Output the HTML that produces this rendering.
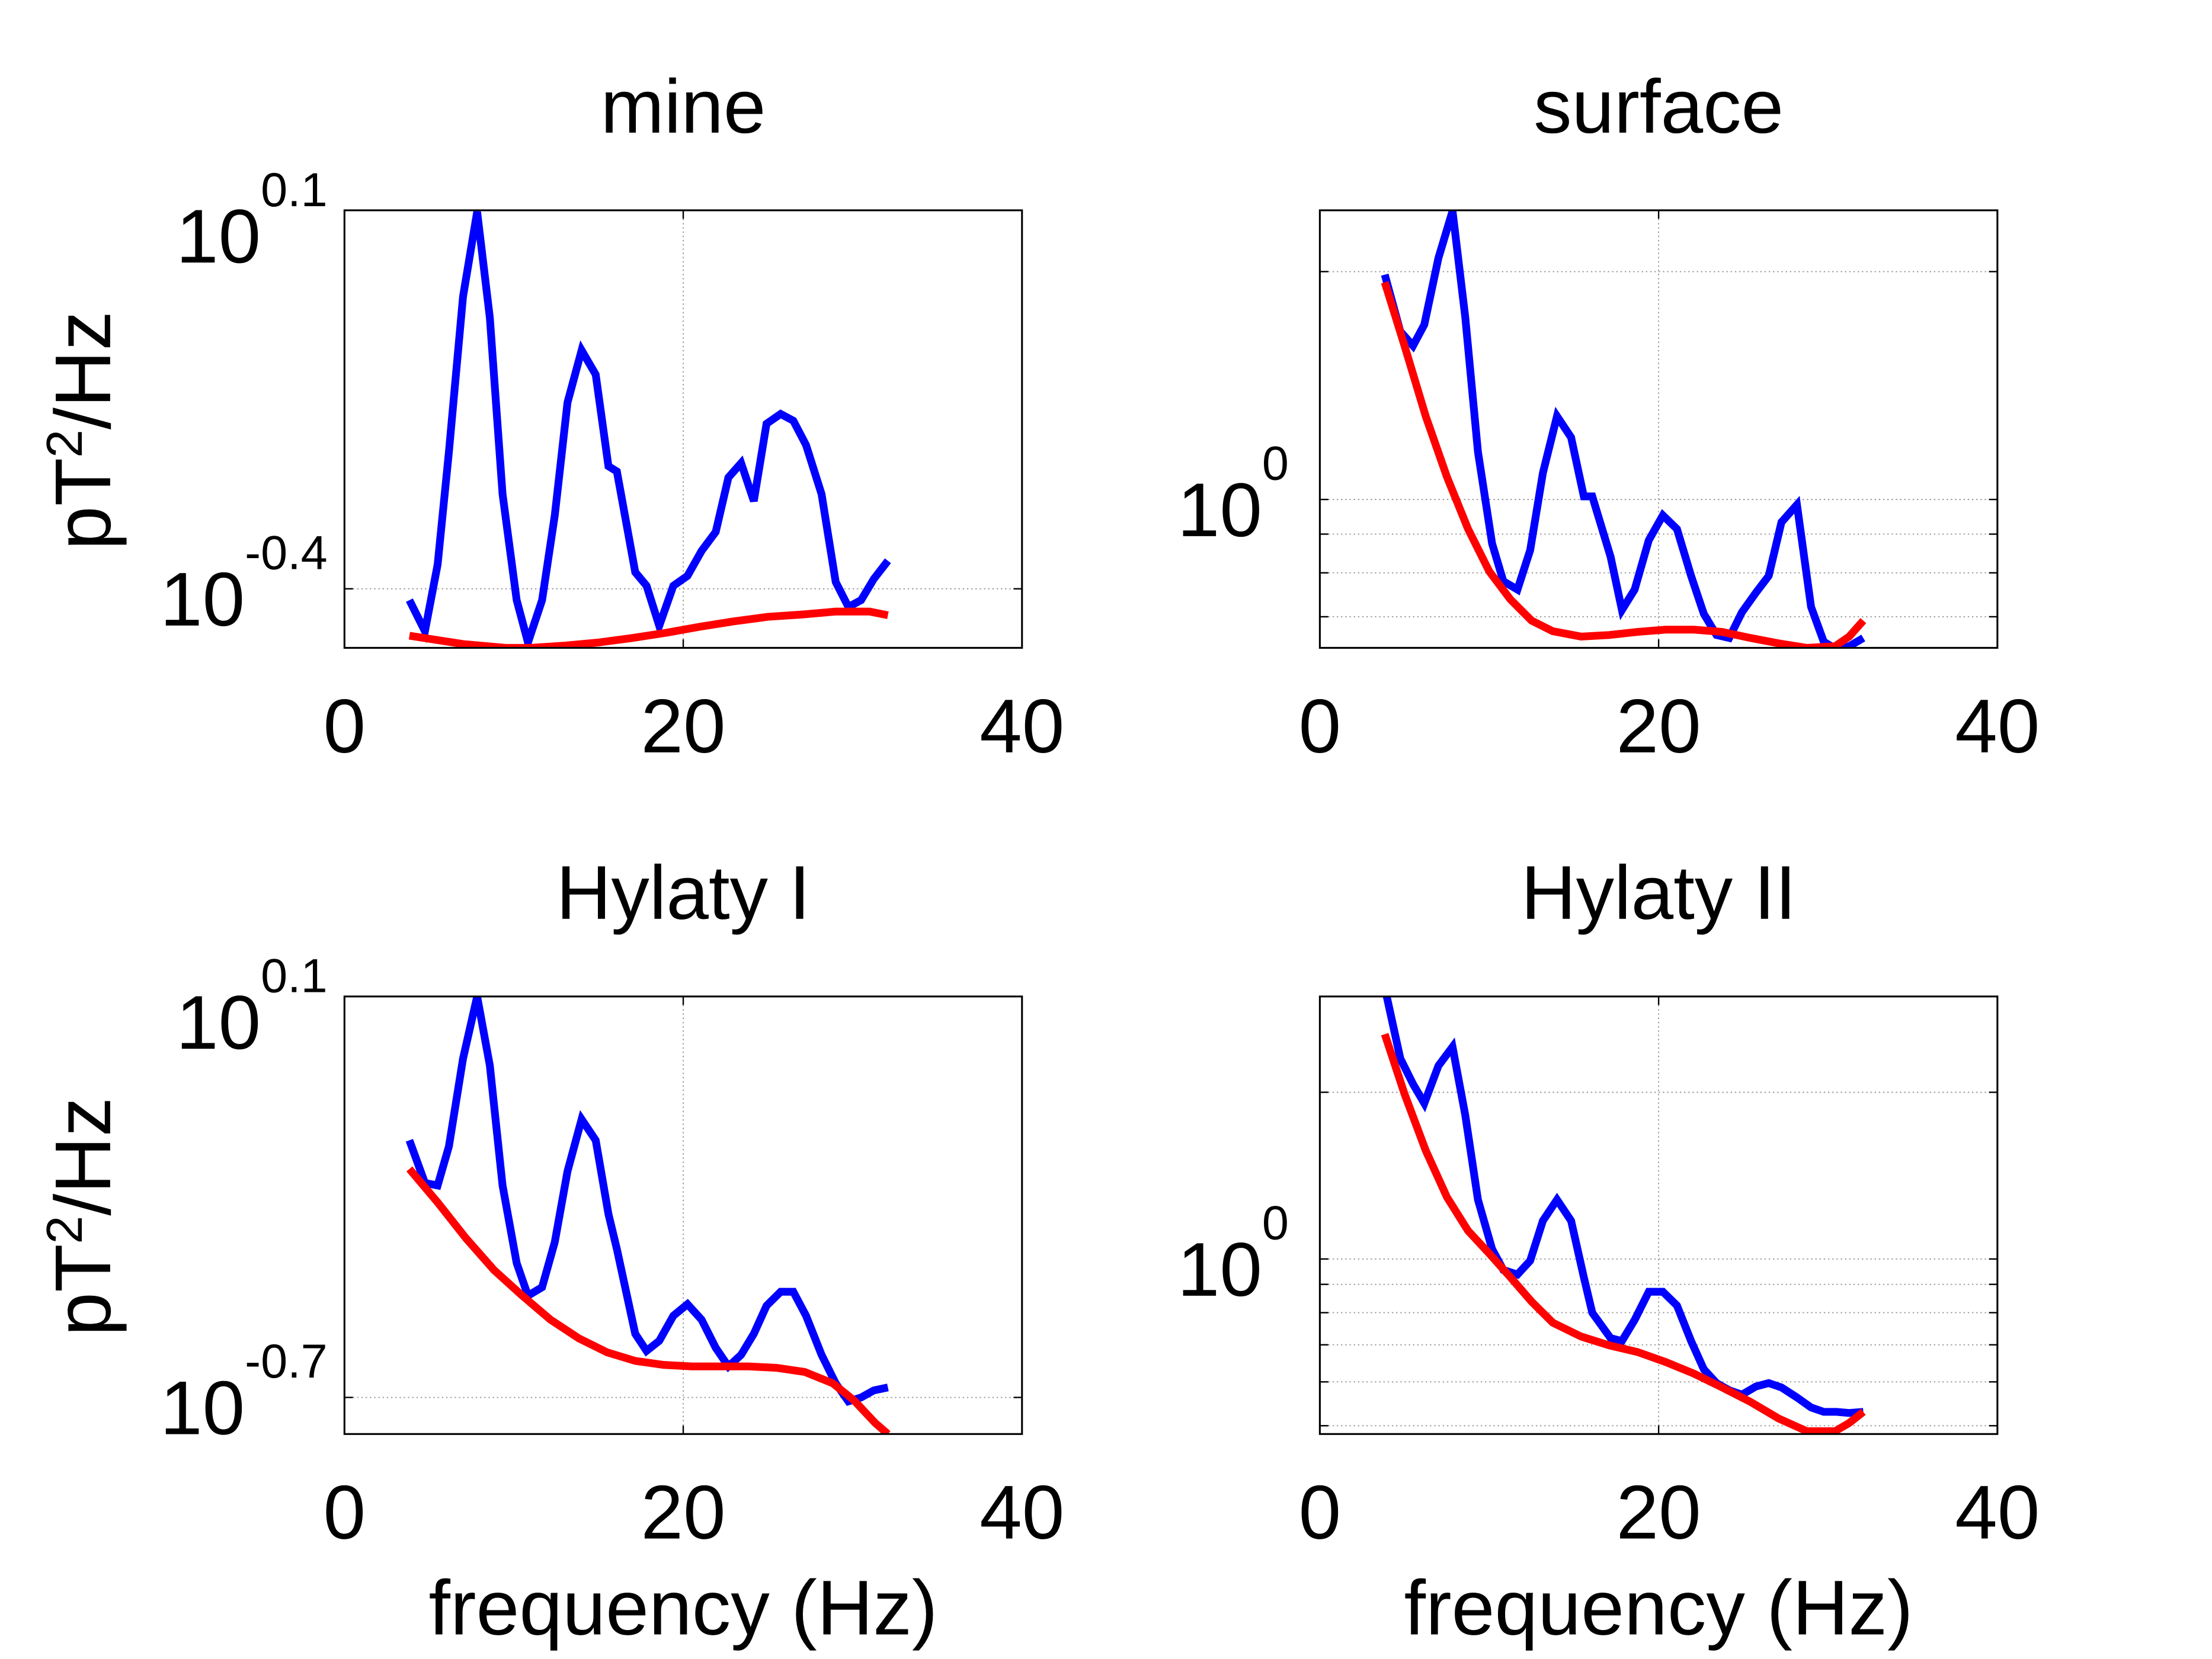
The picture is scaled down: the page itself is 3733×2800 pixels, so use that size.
<!DOCTYPE html>
<html><head><meta charset="utf-8">
<style>
html,body{margin:0;padding:0;background:#fff;}
svg{display:block;}
text{font-family:"Liberation Sans",sans-serif;fill:#000;}
</style></head>
<body>
<svg id="chart" width="3733" height="2800" viewBox="0 0 1567 1175.4" xmlns="http://www.w3.org/2000/svg">
<rect width="1567" height="1175.4" fill="#fff"/>
</svg>
<script>
// Shared frequency grid for measured spectra (Hz)
const blueFreq = [3.83,4.75,5.5,6.17,7,7.83,8.58,9.33,10.17,10.83,11.67,12.42,13.17,14,14.83,15.58,16.08,17.17,17.83,18.58,19.42,20.25,21.08,21.92,22.67,23.42,24.17,24.92,25.75,26.5,27.25,28.17,29,29.75,30.5,31.25,32.08];
// log10 power values
const mineBlue = [-0.415,-0.456,-0.368,-0.219,-0.014,0.098,-0.042,-0.275,-0.415,-0.471,-0.415,-0.303,-0.154,-0.085,-0.117,-0.238,-0.245,-0.378,-0.396,-0.449,-0.396,-0.383,-0.350,-0.325,-0.253,-0.234,-0.284,-0.182,-0.169,-0.178,-0.210,-0.275,-0.391,-0.424,-0.415,-0.387,-0.363];
const mineRedFreq = [3.83,7,9.5,11,13,15,17,19,21,23,25,27,29,31,32.08];
const mineRed = [-0.462,-0.473,-0.478,-0.478,-0.475,-0.471,-0.465,-0.458,-0.450,-0.443,-0.437,-0.434,-0.430,-0.430,-0.435];
const surfBlue = [0.297,0.222,0.203,0.231,0.319,0.381,0.241,0.063,-0.058,-0.108,-0.119,-0.067,0.035,0.110,0.082,0.004,0.004,-0.076,-0.146,-0.119,-0.054,-0.021,-0.039,-0.101,-0.151,-0.179,-0.183,-0.149,-0.123,-0.101,-0.030,-0.007,-0.142,-0.188,-0.198,-0.194,-0.183];
const smoothFreq = [3.83,5,6.25,7.5,8.75,10,11.25,12.5,13.75,15.42,17.08,18.75,20.42,22.08,23.75,25.42,27.08,28.75,30.42,31.25,32.08];
const surfRed = [0.287,0.203,0.110,0.030,-0.039,-0.095,-0.132,-0.160,-0.174,-0.181,-0.179,-0.175,-0.172,-0.172,-0.175,-0.183,-0.190,-0.196,-0.194,-0.181,-0.160];
const hyl1Blue = [-0.187,-0.272,-0.277,-0.199,-0.024,0.1,-0.038,-0.277,-0.432,-0.497,-0.480,-0.390,-0.249,-0.145,-0.187,-0.334,-0.404,-0.573,-0.607,-0.587,-0.537,-0.514,-0.545,-0.601,-0.638,-0.615,-0.573,-0.517,-0.489,-0.489,-0.537,-0.615,-0.672,-0.708,-0.700,-0.686,-0.680];
const hyl1RedFreq = [3.83,5.5,7.17,8.83,10.5,12.17,13.83,15.5,17.17,18.83,20.5,22.17,23.83,25.5,27.17,28.83,30.08,31.33,32.08];
const hyl1Red = [-0.244,-0.311,-0.382,-0.446,-0.497,-0.545,-0.582,-0.610,-0.627,-0.635,-0.638,-0.638,-0.638,-0.641,-0.649,-0.672,-0.706,-0.751,-0.773];
const hyl2Blue = [0.49,0.362,0.316,0.281,0.349,0.383,0.260,0.107,0.018,-0.020,-0.028,-0.003,0.069,0.107,0.069,-0.033,-0.097,-0.143,-0.148,-0.110,-0.059,-0.059,-0.084,-0.148,-0.199,-0.224,-0.237,-0.245,-0.230,-0.224,-0.232,-0.250,-0.268,-0.276,-0.276,-0.278,-0.276];
const hyl2Red = [0.406,0.298,0.196,0.112,0.051,0.010,-0.033,-0.077,-0.115,-0.140,-0.156,-0.168,-0.186,-0.207,-0.232,-0.258,-0.288,-0.311,-0.311,-0.296,-0.276];
const xTicks = [0,20,40];
const panelTitles = ["mine","surface","Hylaty I","Hylaty II"];

const NS="http://www.w3.org/2000/svg";
const svg=document.getElementById('chart');
function mk(tag,attrs,parent){const e=document.createElementNS(NS,tag);for(const k in attrs)e.setAttribute(k,attrs[k]);(parent||svg).appendChild(e);return e;}

const panels=[
 {title:panelTitles[0],x0:244,y0:149,logTop:0.1,logBot:-0.478,major:[{v:0.1,lab:"0.1"},{v:-0.4,lab:"-0.4"}],minor:[],blue:mineBlue,redF:mineRedFreq,red:mineRed,ylabel:true,xlabel:false},
 {title:panelTitles[1],x0:935,y0:149,logTop:0.382,logBot:-0.196,major:[{v:0,lab:"0"}],minor:[Math.log10(2),Math.log10(0.9),Math.log10(0.8),Math.log10(0.7)],blue:surfBlue,redF:smoothFreq,red:surfRed,ylabel:false,xlabel:false},
 {title:panelTitles[2],x0:244,y0:706,logTop:0.1,logBot:-0.773,major:[{v:0.1,lab:"0.1"},{v:-0.7,lab:"-0.7"}],minor:[],blue:hyl1Blue,redF:hyl1RedFreq,red:hyl1Red,ylabel:true,xlabel:true},
 {title:panelTitles[3],x0:935,y0:706,logTop:0.474,logBot:-0.316,major:[{v:0,lab:"0"}],minor:[Math.log10(2),Math.log10(0.9),Math.log10(0.8),Math.log10(0.7),Math.log10(0.6),Math.log10(0.5)],blue:hyl2Blue,redF:smoothFreq,red:hyl2Red,ylabel:false,xlabel:true}
];
const W=480,H=310;
panels.forEach((p,i)=>{
  const g=mk('g',{});
  
  
  const sx=f=>p.x0+f/40*W;
  const sy=l=>p.y0+(p.logTop-l)/(p.logTop-p.logBot)*H;
  const cid='clip'+i;
  const cp=mk('clipPath',{id:cid},g);mk('rect',{x:p.x0,y:p.y0,width:W,height:H},cp);
  const gx=mk('line',{x1:sx(20),x2:sx(20),y1:p.y0,y2:p.y0+H,stroke:'#999','stroke-width':0.8,'stroke-dasharray':'1,2'},g);
  
  p.major.concat(p.minor.map(v=>({v:v}))).forEach(m=>{
    const y=sy(m.v);
    const gl=mk('line',{x1:p.x0,x2:p.x0+W,y1:y,y2:y,stroke:'#999','stroke-width':0.8,'stroke-dasharray':'1,2'},g);
    
    mk('line',{x1:p.x0,x2:p.x0+6,y1:y,y2:y,stroke:'#000','stroke-width':1},g);
    mk('line',{x1:p.x0+W-6,x2:p.x0+W,y1:y,y2:y,stroke:'#000','stroke-width':1},g);
  });
  mk('line',{x1:sx(20),x2:sx(20),y1:p.y0+H,y2:p.y0+H-6,stroke:'#000','stroke-width':1},g);
  mk('line',{x1:sx(20),x2:sx(20),y1:p.y0,y2:p.y0+6,stroke:'#000','stroke-width':1},g);
  const path=(fs,vs)=>fs.map((f,k)=>(k?'L':'M')+sx(f).toFixed(1)+','+sy(vs[k]).toFixed(1)).join(' ');
  const b=mk('path',{d:path(blueFreq,p.blue),fill:'none',stroke:'#0000ff','stroke-width':5.5,'clip-path':'url(#'+cid+')'},g);
  
  const r=mk('path',{d:path(p.redF,p.red),fill:'none',stroke:'#ff0000','stroke-width':5.5,'clip-path':'url(#'+cid+')'},g);
  
  const fr=mk('rect',{x:p.x0,y:p.y0,width:W,height:H,fill:'none',stroke:'#000','stroke-width':1.3},g);
  
  const t=mk('text',{x:p.x0+W/2,y:p.y0-55,'text-anchor':'middle','font-size':54},g);t.textContent=p.title;
  
  xTicks.forEach(v=>{const tl=mk('text',{x:sx(v),y:p.y0+H+74,'text-anchor':'middle','font-size':54},g);tl.textContent=v;
    });
  p.major.forEach(m=>{const y=sy(m.v);
    const off=(Math.abs(y-p.y0)<1)?37:26;
    const tl=mk('text',{x:p.x0-12,y:y+off,'text-anchor':'end','font-size':54},g);
    
    const base=document.createElementNS(NS,'tspan');base.textContent='10';tl.appendChild(base);
    const ex=document.createElementNS(NS,'tspan');ex.setAttribute('dy','-40');ex.setAttribute('font-size','34');ex.textContent=m.lab;tl.appendChild(ex);
    if(m.lab.length<=1){tl.setAttribute('x',p.x0-22);}
  });
  if(p.ylabel){const yl=mk('text',{transform:'translate(78,'+(p.y0+156)+') rotate(-90)','text-anchor':'middle','font-size':56},g);
    
    const a=document.createElementNS(NS,'tspan');a.textContent='pT';yl.appendChild(a);
    const s=document.createElementNS(NS,'tspan');s.setAttribute('dy','-20');s.setAttribute('font-size','36');s.textContent='2';yl.appendChild(s);
    const c=document.createElementNS(NS,'tspan');c.setAttribute('dy','20');c.textContent='/Hz';yl.appendChild(c);}
  if(p.xlabel){const xl=mk('text',{x:p.x0+W/2,y:1158,'text-anchor':'middle','font-size':55},g);xl.textContent='frequency (Hz)';
    }
});
</script>
</body></html>
